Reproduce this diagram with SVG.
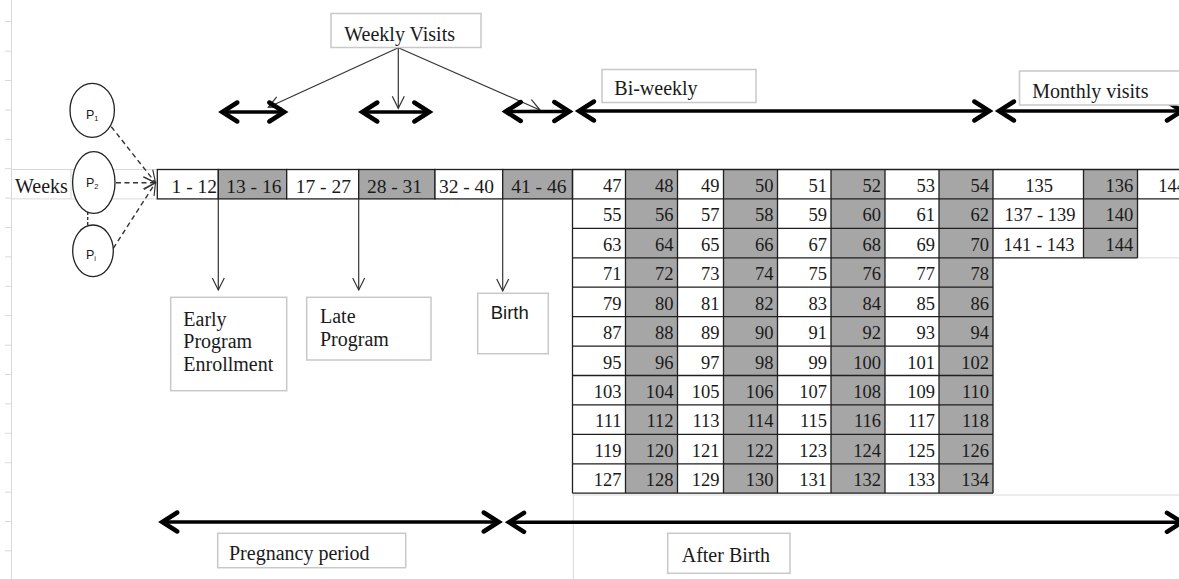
<svg xmlns="http://www.w3.org/2000/svg" width="1179" height="579" viewBox="0 0 1179 579">
<style>
text{font-family:"Liberation Serif","Times New Roman",serif;fill:#1a1a1a}
.lbl{font-size:20px}
.cell{font-size:19.5px}
.n text{font-size:18.5px;text-anchor:end}
.mid{text-anchor:middle}
.n .st{text-anchor:start}
.n .md{text-anchor:middle}
.box{fill:#fff;stroke:#c8c8c8;stroke-width:1.5}
.grid{fill:none;stroke:#1f1f1f;stroke-width:1.3}
.wcell{fill:#fff;stroke:#1f1f1f;stroke-width:1.3}
.gcell{fill:#a6a6a6;stroke:#1f1f1f;stroke-width:1.3}
.sheet{fill:none;stroke:#d9d9d9;stroke-width:1}
.shade{fill:#a6a6a6}
.span{fill:none;stroke:#000;stroke-width:3.5;marker-start:url(#chev);marker-end:url(#chev)}
.thin{fill:none;stroke:#333;stroke-width:1.2;marker-end:url(#open)}
.dash{fill:none;stroke:#333;stroke-width:1.4;stroke-dasharray:5 3.5;marker-end:url(#open)}
.pnode{fill:#fff;stroke:#222;stroke-width:1.3}
.ptxt{font-family:"Liberation Sans",Arial,sans-serif;font-size:12.5px}
.sub{font-size:7.5px}
.sans{font-family:"Liberation Sans",Arial,sans-serif;font-size:18.5px}
</style>
<defs>
  <!-- bold chevron used on both ends of the period spans -->
  <marker id="chev" markerUnits="userSpaceOnUse" viewBox="-25 -15 30 30" refX="0" refY="0" markerWidth="30" markerHeight="30" orient="auto-start-reverse" overflow="visible">
    <path d="M-15,-9.5 L0,0 L-15,9.5" fill="none" stroke="#000" stroke-width="4.5" stroke-linecap="round" stroke-linejoin="miter"/>
  </marker>
  <!-- thin open arrowhead for pointers -->
  <marker id="open" markerUnits="userSpaceOnUse" viewBox="-15 -8 16 16" refX="0" refY="0" markerWidth="16" markerHeight="16" orient="auto" overflow="visible">
    <path d="M-12,-6 L0,0 L-12,6" fill="none" stroke="#333" stroke-width="1.2" stroke-dasharray="none"/>
  </marker>
</defs>

<rect width="1179" height="579" fill="#fff"/>

<!-- spreadsheet gridlines in the background -->
<g id="sheet" class="sheet">
  <path d="M11.5,0 V579"/>
  <path d="M5,21.7 H11.5 M5,51.1 H11.5 M5,80.5 H11.5 M5,109.9 H11.5 M5,139.3 H11.5 M5,168.7 H11.5 M5,198.1 H11.5 M5,227.5 H11.5 M5,256.9 H11.5 M5,286.3 H11.5 M5,315.7 H11.5 M5,345.1 H11.5 M5,374.5 H11.5 M5,403.9 H11.5 M5,433.3 H11.5 M5,462.7 H11.5 M5,492.1 H11.5 M5,521.5 H11.5 M5,550.9 H11.5"/>
  <path d="M11.5,169.5 H157.3 M11.5,198.9 H157.3 M71,169.5 V198.9"/>
  <path d="M572.5,495 H1179 M573.3,494 V579 M1137.5,257.8 H1179"/>
</g>

<!-- week label row -->
<g id="weeks-row">
  <text class="lbl" x="15" y="192.5">Weeks</text>
  <rect class="wcell" x="157.3" y="169.5" width="61" height="29.4"/>
  <rect class="gcell" x="218.3" y="169.5" width="68.4" height="29.4"/>
  <rect class="wcell" x="286.7" y="169.5" width="72" height="29.4"/>
  <rect class="gcell" x="358.7" y="169.5" width="76.3" height="29.4"/>
  <rect class="wcell" x="435" y="169.5" width="67.7" height="29.4"/>
  <rect class="gcell" x="502.7" y="169.5" width="69.8" height="29.4"/>
  <text class="cell" x="217" y="192.5" text-anchor="end">1 - 12</text>
  <text class="cell mid" x="253.8" y="192.5">13 - 16</text>
  <text class="cell mid" x="323.3" y="192.5">17 - 27</text>
  <text class="cell mid" x="394.5" y="192.5">28 - 31</text>
  <text class="cell mid" x="466.5" y="192.5">32 - 40</text>
  <text class="cell mid" x="538.8" y="192.5">41 - 46</text>
</g>

<!-- post-birth week table -->
<g id="week-table">
  <rect class="shade" x="625.5" y="169.5" width="52" height="323.7"/>
  <rect class="shade" x="723.5" y="169.5" width="54" height="323.7"/>
  <rect class="shade" x="831" y="169.5" width="54" height="323.7"/>
  <rect class="shade" x="939" y="169.5" width="54" height="323.7"/>
  <rect class="shade" x="1083.5" y="169.5" width="54" height="88.3"/>
  <path class="grid" d="M572.5,169.5 H1179 M572.5,198.9 H1179 M572.5,228.4 H1137.5 M572.5,257.8 H1137.5 M572.5,287.2 H993 M572.5,316.7 H993 M572.5,346.1 H993 M572.5,375.5 H993 M572.5,404.9 H993 M572.5,434.4 H993 M572.5,463.8 H993 M572.5,493.2 H993
    M572.5,169.5 V493.2 M625.5,169.5 V493.2 M677.5,169.5 V493.2 M723.5,169.5 V493.2 M777.5,169.5 V493.2 M831,169.5 V493.2 M885,169.5 V493.2 M939,169.5 V493.2 M993,169.5 V493.2 M1083.5,169.5 V257.8 M1137.5,169.5 V257.8"/>
  <g class="n">
    <text x="621.5" y="192">47</text><text x="673.5" y="192">48</text><text x="719.5" y="192">49</text><text x="773.5" y="192">50</text><text x="827" y="192">51</text><text x="881" y="192">52</text><text x="935" y="192">53</text><text x="989" y="192">54</text>
    <text class="md" x="1039" y="192">135</text><text x="1133.3" y="192">136</text><text class="st" x="1158.3" y="192">144</text>
    <text x="621.5" y="221.4">55</text><text x="673.5" y="221.4">56</text><text x="719.5" y="221.4">57</text><text x="773.5" y="221.4">58</text><text x="827" y="221.4">59</text><text x="881" y="221.4">60</text><text x="935" y="221.4">61</text><text x="989" y="221.4">62</text>
    <text class="md" x="1040" y="221.4">137 - 139</text><text x="1133.3" y="221.4">140</text>
    <text x="621.5" y="250.9">63</text><text x="673.5" y="250.9">64</text><text x="719.5" y="250.9">65</text><text x="773.5" y="250.9">66</text><text x="827" y="250.9">67</text><text x="881" y="250.9">68</text><text x="935" y="250.9">69</text><text x="989" y="250.9">70</text>
    <text class="md" x="1039" y="250.9">141 - 143</text><text x="1133.3" y="250.9">144</text>
    <text x="621.5" y="280.3">71</text><text x="673.5" y="280.3">72</text><text x="719.5" y="280.3">73</text><text x="773.5" y="280.3">74</text><text x="827" y="280.3">75</text><text x="881" y="280.3">76</text><text x="935" y="280.3">77</text><text x="989" y="280.3">78</text>
    <text x="621.5" y="309.7">79</text><text x="673.5" y="309.7">80</text><text x="719.5" y="309.7">81</text><text x="773.5" y="309.7">82</text><text x="827" y="309.7">83</text><text x="881" y="309.7">84</text><text x="935" y="309.7">85</text><text x="989" y="309.7">86</text>
    <text x="621.5" y="339.2">87</text><text x="673.5" y="339.2">88</text><text x="719.5" y="339.2">89</text><text x="773.5" y="339.2">90</text><text x="827" y="339.2">91</text><text x="881" y="339.2">92</text><text x="935" y="339.2">93</text><text x="989" y="339.2">94</text>
    <text x="621.5" y="368.6">95</text><text x="673.5" y="368.6">96</text><text x="719.5" y="368.6">97</text><text x="773.5" y="368.6">98</text><text x="827" y="368.6">99</text><text x="881" y="368.6">100</text><text x="935" y="368.6">101</text><text x="989" y="368.6">102</text>
    <text x="621.5" y="398">103</text><text x="673.5" y="398">104</text><text x="719.5" y="398">105</text><text x="773.5" y="398">106</text><text x="827" y="398">107</text><text x="881" y="398">108</text><text x="935" y="398">109</text><text x="989" y="398">110</text>
    <text x="621.5" y="427.4">111</text><text x="673.5" y="427.4">112</text><text x="719.5" y="427.4">113</text><text x="773.5" y="427.4">114</text><text x="827" y="427.4">115</text><text x="881" y="427.4">116</text><text x="935" y="427.4">117</text><text x="989" y="427.4">118</text>
    <text x="621.5" y="456.9">119</text><text x="673.5" y="456.9">120</text><text x="719.5" y="456.9">121</text><text x="773.5" y="456.9">122</text><text x="827" y="456.9">123</text><text x="881" y="456.9">124</text><text x="935" y="456.9">125</text><text x="989" y="456.9">126</text>
    <text x="621.5" y="486.3">127</text><text x="673.5" y="486.3">128</text><text x="719.5" y="486.3">129</text><text x="773.5" y="486.3">130</text><text x="827" y="486.3">131</text><text x="881" y="486.3">132</text><text x="935" y="486.3">133</text><text x="989" y="486.3">134</text>
  </g>
</g>

<!-- connectors -->
<g id="connectors">
  <path class="dash" d="M111.3,126.7 L155.5,182.7"/>
  <path class="dash" d="M116,182.7 L155.5,182.7"/>
  <path class="dash" d="M113.3,248.3 L155.5,182.7"/>
  <path fill="none" stroke="#333" stroke-width="1.4" stroke-dasharray="3 2" d="M87.7,212 V225.5"/>
  <path class="thin" d="M398.3,47.7 L268.3,107.3"/>
  <path class="thin" d="M398.3,47.7 L398.3,108.3"/>
  <path class="thin" d="M398.3,47.7 L540,110"/>
  <path class="thin" d="M218.3,199.3 V290"/>
  <path class="thin" d="M358.7,199.3 V290"/>
  <path class="thin" d="M502.7,199.3 V291"/>
  <path class="span" d="M222.3,112 H284.3"/>
  <path class="span" d="M362.3,112 H429.3"/>
  <path class="span" d="M505.7,111.5 H569.3"/>
  <path class="span" d="M579,111 H989.3"/>
  <path class="span" d="M999,111 H1182"/>
  <path class="span" d="M162.3,522 H498.7"/>
  <path class="span" d="M509,522.3 H1182"/>
</g>

<!-- participant nodes -->
<g id="p1">
  <ellipse class="pnode" cx="92.2" cy="110.3" rx="22.2" ry="27"/>
  <text class="ptxt" x="86" y="119.3">P<tspan class="sub" dy="2">1</tspan></text>
</g>
<g id="p2">
  <ellipse class="pnode" cx="93.8" cy="182.5" rx="21.2" ry="30.8"/>
  <text class="ptxt" x="86" y="186.7">P<tspan class="sub" dy="2">2</tspan></text>
</g>
<g id="pi">
  <ellipse class="pnode" cx="93" cy="250.8" rx="20.3" ry="25.8"/>
  <text class="ptxt" x="86" y="259.3">P<tspan class="sub" dy="2">i</tspan></text>
</g>

<!-- labels -->
<g id="weekly-visits">
  <rect class="box" x="331" y="13.5" width="150" height="34"/>
  <text class="lbl" x="344.3" y="40.5">Weekly Visits</text>
</g>
<g id="bi-weekly">
  <rect class="box" x="602" y="69.5" width="154" height="33"/>
  <text class="lbl" x="614.3" y="95">Bi-weekly</text>
</g>
<g id="monthly-visits">
  <rect class="box" x="1019.5" y="71" width="175" height="34"/>
  <text class="lbl" x="1032.3" y="97.5">Monthly visits</text>
</g>
<g id="early-enrollment">
  <rect class="box" x="170.7" y="297.3" width="116" height="93.4"/>
  <text class="lbl" x="183.3" y="325.5">Early</text>
  <text class="lbl" x="183.3" y="348">Program</text>
  <text class="lbl" x="183.3" y="370.5">Enrollment</text>
</g>
<g id="late-program">
  <rect class="box" x="306.7" y="297.3" width="124.3" height="62.7"/>
  <text class="lbl" x="320" y="323">Late</text>
  <text class="lbl" x="320" y="345.5">Program</text>
</g>
<g id="birth">
  <rect class="box" x="477.7" y="293.3" width="70.6" height="60.4"/>
  <text class="sans" x="490.7" y="319.3">Birth</text>
</g>
<g id="pregnancy-period">
  <rect class="box" x="217.7" y="533.3" width="188" height="34.4"/>
  <text class="lbl" x="229" y="560">Pregnancy period</text>
</g>
<g id="after-birth">
  <rect class="box" x="667.7" y="533.3" width="122.3" height="40"/>
  <text class="lbl" x="681.7" y="561.5">After Birth</text>
</g>
</svg>
